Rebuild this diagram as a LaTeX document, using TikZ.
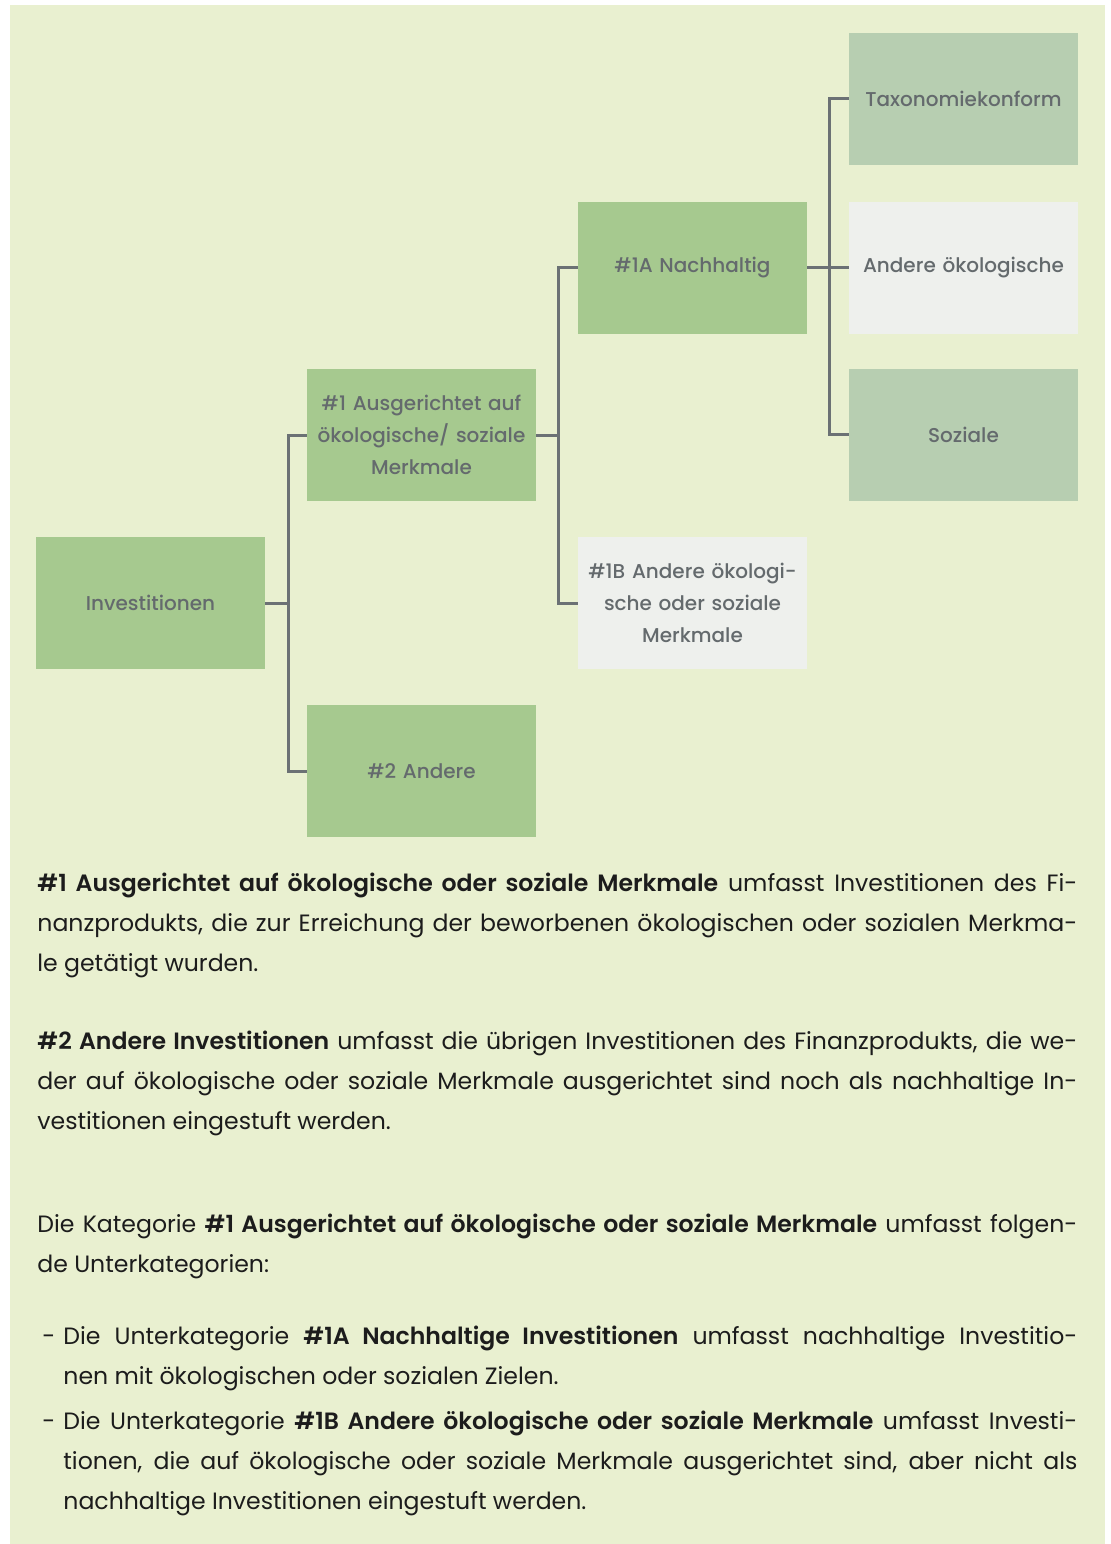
\documentclass[tikz,border=0pt]{standalone}
\usepackage{fontspec}
\setmainfont{Poppins}[BoldFont={Poppins SemiBold}]
\newfontfamily\boxfont{Poppins Medium}
\usepackage{xcolor}
\usetikzlibrary{positioning, calc}

\definecolor{bgcol}{HTML}{E9F0D0}
\definecolor{leafgreen}{HTML}{A6C98F}
\definecolor{sagegreen}{HTML}{B7CEB1}
\definecolor{palegray}{HTML}{EEF0ED}
\definecolor{linegray}{HTML}{6B7174}
\definecolor{boxtext}{HTML}{646A6D}
\definecolor{bodytext}{HTML}{1C1C1C}

\newcommand{\itemdash}{\hangindent=10.5pt\hangafter=1\makebox[10.5pt][l]{-}}

\begin{document}
\begin{tikzpicture}[x=0.5pt, y=-0.5pt,
  catbox/.style={rectangle, minimum width=114.5pt, minimum height=66pt,
    inner sep=0pt, text width=106pt, align=center, text=boxtext,
    font=\boxfont\fontsize{10pt}{16pt}\selectfont},
  conn/.style={draw=linegray, line width=1.5pt},
  para/.style={anchor=north west, inner sep=0pt, text width=520pt, align=justify,
    text=bodytext, font=\fontsize{11.8pt}{20pt}\selectfont},
  item/.style={para, text width=517.5pt}]
  % Background
  \useasboundingbox (0,0) rectangle (1110,1544);
  \fill[white] (0,0) rectangle (1110,1544);
  \fill[bgcol] (10,5) rectangle (1105,1544);
  % Tree
  \node[catbox, fill=leafgreen] (inv) at (150.5,603) {Investitionen};
  \node[catbox, fill=leafgreen] (a1) at (421.5,435) {\#1 Ausgerichtet auf\\ökologische/ soziale\\Merkmale};
  \node[catbox, fill=leafgreen] (a2) at (421.5,771) {\#2 Andere};
  \node[catbox, fill=leafgreen] (s1a) at (692.5,267.5) {\#1A Nachhaltig};
  \node[catbox, fill=palegray] (s1b) at (692.5,603) {\#1B Andere ökologi-\\sche oder soziale\\Merkmale};
  \node[catbox, fill=sagegreen] (tax) at (963.5,98.5) {Taxonomiekonform};
  \node[catbox, fill=palegray] (oeko) at (963.5,267.5) {Andere ökologische};
  \node[catbox, fill=sagegreen] (soz) at (963.5,434.5) {Soziale};
  % Connectors
  \draw[conn] (inv.east) -- ++(23,0) coordinate (j1) |- (a1.west);
  \draw[conn] (j1) |- (a2.west);
  \draw[conn] (a1.east) -- ++(22,0) coordinate (j2) |- (s1a.west);
  \draw[conn] (j2) |- (s1b.west);
  \draw[conn] (s1a.east) -- ++(22,0) coordinate (j3) |- (tax.west);
  \draw[conn] (j3) |- (oeko.west);
  \draw[conn] (j3) |- (soz.west);
  % Explanations
  \node[para] (t1) at (37,873) {\textbf{\#1 Ausgerichtet auf ökologische oder soziale Merkmale} umfasst Investitionen des Fi-\linebreak nanzprodukts, die zur Erreichung der beworbenen ökologischen oder sozialen Merkma-\linebreak le getätigt wurden.};
  \node[para] (t2) at (37,1031) {\textbf{\#2 Andere Investitionen} umfasst die übrigen Investitionen des Finanzprodukts, die we-\linebreak der auf ökologische oder soziale Merkmale ausgerichtet sind noch als nachhaltige In-\linebreak vestitionen eingestuft werden.};
  \node[para] (t3) at (37,1214) {Die Kategorie \textbf{\#1 Ausgerichtet auf ökologische oder soziale Merkmale} umfasst folgen-\linebreak de Unterkategorien:};
  \node[item] (i1) at (42,1326) {\itemdash Die Unterkategorie \textbf{\#1A Nachhaltige Investitionen} umfasst nachhaltige Investitio-\linebreak nen mit ökologischen oder sozialen Zielen.\par};
  \node[item] (i2) at (42,1411) {\itemdash Die Unterkategorie \textbf{\#1B Andere ökologische oder soziale Merkmale} umfasst Investi-\linebreak tionen, die auf ökologische oder soziale Merkmale ausgerichtet sind, aber nicht als\linebreak nachhaltige Investitionen eingestuft werden.\par};
\end{tikzpicture}
\end{document}
